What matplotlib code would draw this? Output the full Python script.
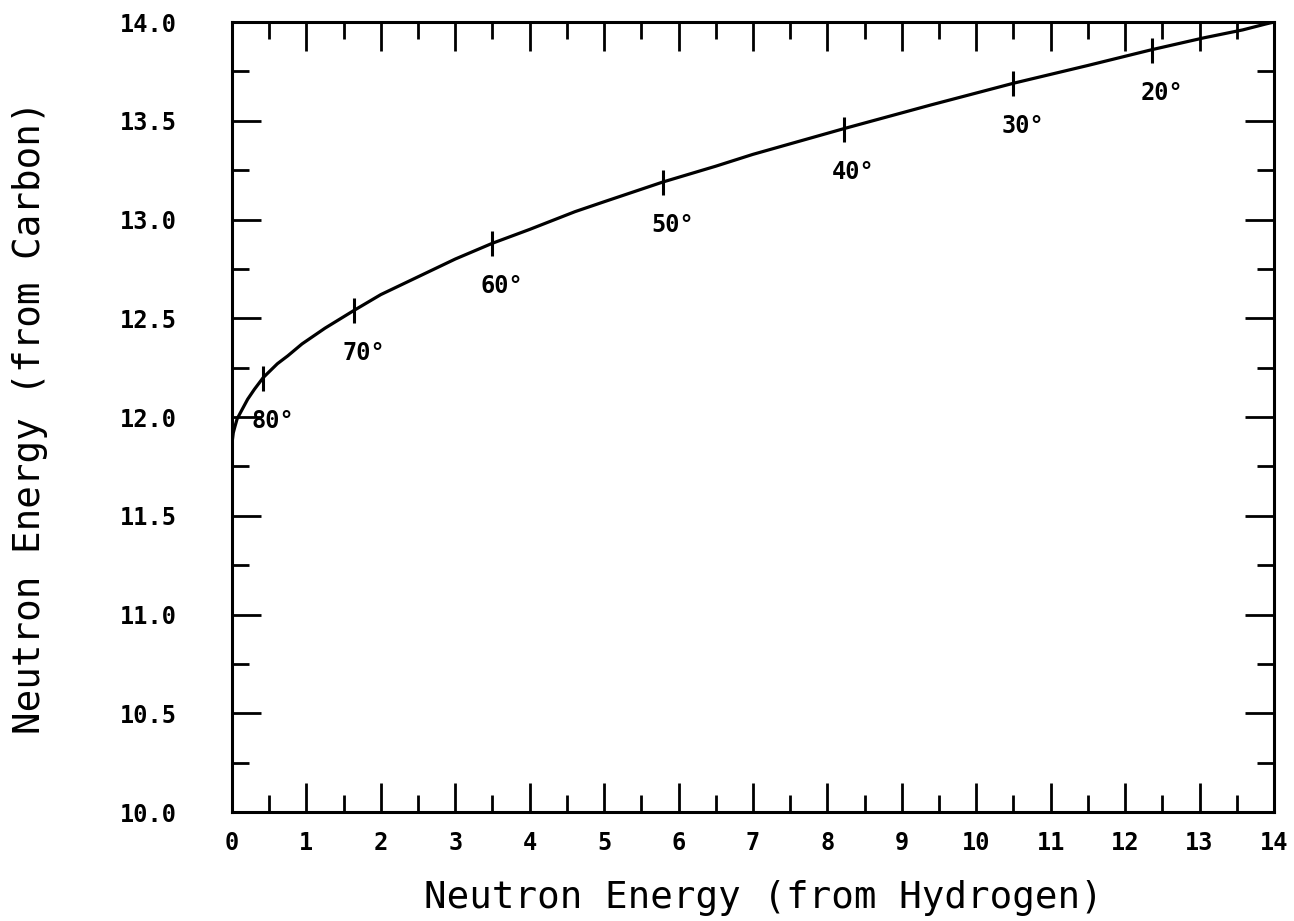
"""Carbon vs hydrogen recoil neutron energy with scattering angle marks."""

import matplotlib
matplotlib.use("Agg")
import matplotlib.pyplot as plt
from matplotlib.ticker import MultipleLocator, FormatStrFormatter

# curve (MeV)
h_energy = [0.0, 0.004, 0.017, 0.038, 0.068, 0.11, 0.21, 0.30, 0.42, 0.61,
            0.75, 0.94, 1.25, 1.64, 2.00, 2.50, 3.00, 3.50, 4.00, 4.61,
            5.00, 5.79, 6.50, 7.00, 8.22, 9.39, 10.50, 11.50, 12.36, 13.06,
            13.58, 13.89, 14.0]
c_energy = [11.85, 11.88, 11.92, 11.95, 11.99, 12.02, 12.09, 12.14, 12.20, 12.27,
            12.31, 12.37, 12.45, 12.54, 12.62, 12.71, 12.80, 12.88, 12.95, 13.04,
            13.09, 13.19, 13.27, 13.33, 13.46, 13.58, 13.69, 13.78, 13.86, 13.92,
            13.96, 13.99, 14.0]

# scattering angle marks on the curve
angle_h = [0.42, 1.64, 3.50, 5.79, 8.22, 10.50, 12.36]
angle_c = [12.20, 12.54, 12.88, 13.19, 13.46, 13.69, 13.86]
angle_labels = ["80°", "70°", "60°", "50°", "40°", "30°", "20°"]

x_ticks = list(range(0, 15))
y_ticks = [10.0, 10.5, 11.0, 11.5, 12.0, 12.5, 13.0, 13.5, 14.0]

fig = plt.figure(figsize=(12.94, 9.21), dpi=100)
ax = fig.add_axes([0.1793, 0.1183, 0.8052, 0.8578])

ax.plot(h_energy, c_energy, color="black", lw=2.3, solid_capstyle="butt")
ax.plot(angle_h, angle_c, ls="none", marker="|", ms=18, mew=2.2, color="black")
for x, y, lab in zip(angle_h, angle_c, angle_labels):
    ax.annotate(lab, (x, y), xytext=(7, -31), textcoords="offset points",
                ha="center", va="center", fontsize=17, fontweight="bold",
                family="DejaVu Sans Mono")

ax.set_xlim(0, 14)
ax.set_ylim(10, 14)
ax.set_xticks(x_ticks)
ax.set_yticks(y_ticks)
ax.xaxis.set_minor_locator(MultipleLocator(0.5))
ax.yaxis.set_minor_locator(MultipleLocator(0.25))
ax.yaxis.set_major_formatter(FormatStrFormatter("%.1f"))

ax.tick_params(which="both", direction="in", top=True, right=True, width=2.0)
ax.tick_params(which="major", length=21, pad=14)
ax.tick_params(axis="y", which="major", pad=40)
ax.tick_params(which="minor", length=12)
for lab in ax.get_xticklabels() + ax.get_yticklabels():
    lab.set_fontfamily("DejaVu Sans Mono")
    lab.set_fontweight("bold")
    lab.set_fontsize(17)
for sp in ax.spines.values():
    sp.set_linewidth(2.2)

ax.set_xlabel("Neutron Energy (from Hydrogen)", fontsize=27,
              family="DejaVu Sans Mono", va="center")
ax.set_ylabel("Neutron Energy (from Carbon)", fontsize=27,
              family="DejaVu Sans Mono", va="center")
ax.xaxis.set_label_coords(0.51, -0.109)
ax.yaxis.set_label_coords(-0.194, 0.5)

fig.savefig("out.png", dpi=100)
plt.close(fig)
